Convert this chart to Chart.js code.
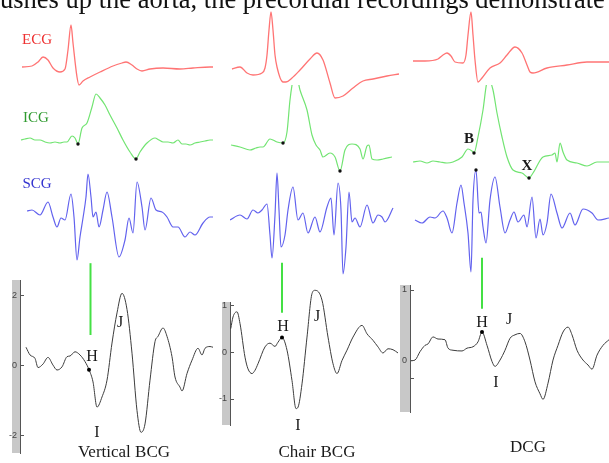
<!DOCTYPE html>
<html><head><meta charset="utf-8">
<script src="https://cdn.jsdelivr.net/npm/chart.js@4.4.1/dist/chart.umd.min.js"></script>
<style>
html,body{margin:0;padding:0;background:#fff;}
body{width:609px;height:463px;overflow:hidden;position:relative;font-family:"Liberation Serif","Times New Roman",serif;}
canvas{position:absolute;}
.t{position:absolute;transform:translate(-50%,-50%);line-height:1;white-space:nowrap;color:#1a1a1a;z-index:3;}
.lab{font-size:16px;}
.cap{font-size:17px;}
.bx{font-size:15px;font-weight:bold;}
#top{position:absolute;left:0;top:-14px;font-size:26.5px;line-height:1;white-space:nowrap;color:#111;z-index:3;}
</style></head><body>
<div id="top">ushes up the aorta, the precordial recordings demonstrate</div>
<div class="t" style="left:37px;top:39px;font-size:15px;color:#ee3030">ECG</div>
<div class="t" style="left:36px;top:117px;font-size:15px;color:#2f9a2f">ICG</div>
<div class="t" style="left:37px;top:183px;font-size:15px;color:#3434d0">SCG</div>
<div class="t bx" style="left:469px;top:138px">B</div>
<div class="t bx" style="left:527px;top:165px">X</div>
<div class="t lab" style="left:92px;top:356px">H</div>
<div class="t lab" style="left:120px;top:322px">J</div>
<div class="t lab" style="left:97px;top:432px">I</div>
<div class="t cap" style="left:124px;top:451px">Vertical BCG</div>
<div class="t lab" style="left:283px;top:326px">H</div>
<div class="t lab" style="left:317px;top:316px">J</div>
<div class="t lab" style="left:298px;top:425px">I</div>
<div class="t cap" style="left:317px;top:451px">Chair BCG</div>
<div class="t lab" style="left:482px;top:322px">H</div>
<div class="t lab" style="left:509px;top:319px">J</div>
<div class="t lab" style="left:496px;top:382px">I</div>
<div class="t cap" style="left:528px;top:446px">DCG</div>
<script>
// ---------- DATA (time in ms, amplitude in arbitrary units) ----------
const ecgT1=[8,48,72,92,112,132,160,180,192,204,212,228,236,252,280,320,372,408,424,448,468,488,520,572,640,692,760,772];
const ecgV1=[0,1,5,10,7,-1,-5,-2,17,42,24,-10,-18,-14,-10,-5,1,4,5,2,-2,-4,-2,-1,-2,-1,0,0];
const ecgT2=[8,40,68,92,128,140,148,156,164,172,180,188,212,224,248,280,320,348,372,400,420,452,492,532,572,628,676];
const ecgV2=[0,2,-4,-6,-4,1,14,39,57,39,14,2,-13,-13,-9,-1,10,16,9,-14,-29,-27,-19,-12,-10,-7,-5];
const ecgT3=[12,60,112,132,148,164,180,212,224,232,244,252,260,272,288,320,360,388,420,448,468,480,492,548,628,708,796];
const ecgV3=[0,0,2,6,8,5,-1,-2,6,26,49,26,1,-21,-17,-7,-2,6,14,8,-4,-11,-12,-7,-4,-1,-1];

const icgT1=[4,20,40,60,80,100,120,140,160,176,188,208,220,232,248,268,288,304,320,340,360,388,412,440,464,480,508,540,556,572,592,612,632,648,664,680,700,720,740,760,772];
const icgV1=[0,1,2,0,0,-2,-3,-2,-3,-2,-2,4,2,-4,12,17,33,46,42,35,25,12,0,-12,-19,-12,-3,2,0,-2,-2,-3,0,-4,-4,-5,-3,-2,-1,0,0];
const icgT2=[4,40,80,104,120,132,160,188,212,228,240,252,264,280,308,328,344,360,372,400,420,440,460,488,520,532,548,556,568,588,612,648];
const icgV2=[2,0,-3,-1,0,0,8,5,4,15,47,67,73,57,37,12,2,-3,-10,-6,-10,-24,-3,3,-2,-12,1,2,-12,-13,-12,-10];
const icgT3=[12,40,68,92,120,148,172,208,232,248,256,272,292,308,316,332,348,368,388,412,448,476,492,532,568,580,588,600,612,628,668,708,748,796];
const icgV3=[0,1,-1,1,0,-1,0,5,13,11,9,25,52,80,82,72,49,25,5,-8,-11,-16,-11,5,7,9,0,19,10,2,-1,-4,0,0];

const scgT1=[28,48,80,112,132,148,164,180,204,216,228,240,252,264,272,284,292,304,316,332,348,368,396,420,436,452,468,488,500,524,544,568,588,612,632,660,680,700,732,760,772];
const scgV1=[4,5,0,13,-2,-12,-3,-5,21,-2,-45,-22,-3,18,41,18,-2,3,-12,5,23,-2,-42,-25,-3,-18,33,8,-15,17,5,3,-2,-12,-12,-22,-17,-20,-8,-2,-2];
const scgT2=[0,40,68,92,112,128,148,160,168,180,188,196,204,220,232,252,272,292,312,340,360,388,404,416,432,444,452,464,476,488,500,520,548,572,592,608,620,652];
const scgV2=[-5,0,-4,5,2,5,11,-20,-43,0,42,5,-32,-20,5,28,-5,2,-18,-2,-17,8,17,-20,32,5,-59,-32,23,-7,-3,-12,10,-8,0,-2,-7,7];
const scgT3=[20,48,80,100,132,148,168,188,204,216,232,244,252,264,276,284,292,304,320,340,360,380,400,416,432,456,468,488,504,520,532,548,564,588,608,640,660,692,728,752,796];
const scgV3=[-2,-5,1,0,7,0,-15,15,33,15,-15,-54,18,48,5,6,-9,-25,18,41,11,-15,-2,6,-4,3,-9,21,-20,-1,-17,-5,24,5,-10,5,-7,9,5,-2,0];

const bcgT1=[24,40,60,72,92,112,132,148,168,188,200,220,240,260,276,292,308,328,348,368,388,408,428,448,468,484,500,520,540,552,572,588,608,620,640,648,668,688,712,728,740,760,772];
const bcgV1=[0.51,0.29,0.19,-0.07,0.03,0.22,0.0,-0.14,-0.05,0.24,0.26,0.38,0.29,0.10,-0.13,-0.48,-1.20,-0.91,-0.43,0.63,1.49,2.05,1.59,0.34,-1.30,-1.92,-1.68,-0.43,0.67,0.82,1.06,0.82,0.24,-0.34,-0.63,-0.74,-0.24,0.14,0.48,0.29,0.48,0.53,0.51];
const bcgT2=[3,12,28,40,60,72,88,100,112,140,160,180,192,208,228,248,264,272,288,308,328,340,368,392,412,428,448,468,492,528,548,572,592,612,632,652,672];
const bcgV2=[0.50,0.75,0.86,0.61,-0.11,-0.36,-0.46,-0.39,-0.25,0.11,0.19,0.12,0.21,0.31,0.04,-0.61,-1.21,-1.18,-0.68,0.32,1.25,1.32,1.11,0.32,-0.25,-0.46,-0.18,0.04,0.32,0.57,0.39,0.25,0.11,-0.02,0.07,0.05,-0.02];
const dcgT3=[4,20,40,60,72,92,112,140,152,172,208,228,252,272,288,308,328,340,360,380,400,420,440,460,480,500,520,532,552,572,592,612,632,648,668,692,712,728,748,772,796];
const dcgV3=[-0.01,0,0.12,0.21,0.23,0.33,0.30,0.29,0.17,0.14,0.13,0.17,0.19,0.26,0.40,0.21,-0.02,-0.09,0,0.14,0.31,0.36,0.38,0.26,0,-0.31,-0.48,-0.56,-0.33,0,0.21,0.40,0.47,0.36,0.14,0,-0.07,-0.13,0.07,0.21,0.29];

// fiducial marker indices (B, X on ICG; peak on SCG; H on BCG)
const icgMarks1=[13,24], icgMarks2=[8,21], icgMarks3=[10,21], scgMarks3=[13];
const hIdx=[14,13,14];
// green alignment markers: time and amplitude span in each BCG panel
const greenT=[282,208,288];
const greenV1=[0.86,2.91], greenV2=[0.84,1.91], greenV3=[0.73,1.46];
// axis ticks
const ticks1=[2,0,-2], tickLab1=['2','0','-2'];
const ticks2=[1,0,-1], tickLab2=['1','0','-1'];
const ticks3=[1,0,-0.25], tickLab3=['1','0',''];

// ---------- RENDERING ----------
const MS_PER_PX=4;
function mkCanvas(left,top,w,h){
  const c=document.createElement('canvas');
  c.width=w;c.height=h;
  c.style.left=left+'px';c.style.top=top+'px';
  c.style.width=w+'px';c.style.height=h+'px';
  document.body.appendChild(c);
  return c;
}
const baseOpts=()=>({responsive:false,animation:false,events:[],
  plugins:{legend:{display:false},tooltip:{enabled:false}}});

function traceChart(p){
  const cv=mkCanvas(p.left,p.top,p.w,p.h);
  const marks=p.marks||[];
  const o=baseOpts();
  o.layout={padding:0};
  o.scales={x:{type:'linear',display:false,min:0,max:p.w*MS_PER_PX},
            y:{type:'linear',display:false,min:p.base-(p.top+p.h),max:p.base-p.top}};
  return new Chart(cv,{type:'line',
    data:{datasets:[{data:p.t.map((x,i)=>({x:x,y:p.v[i]})),borderColor:p.color,borderWidth:p.lw,
      pointRadius:c=>marks.includes(c.dataIndex)?1.7:0,pointBackgroundColor:'#111',pointBorderWidth:0,
      cubicInterpolationMode:'monotone',clip:false}]},
    options:o});
}

const grayBarPlugin={id:'grayBar',
  beforeDraw(chart,args,opts){
    const a=chart.chartArea,ctx=chart.ctx;
    ctx.save();ctx.fillStyle='#c8c8c8';
    ctx.fillRect(a.left-opts.width,a.top,opts.width,a.bottom-a.top);
    ctx.restore();
  },
  afterDraw(chart){
    const s=chart.scales.y,ctx=chart.ctx;
    ctx.save();ctx.strokeStyle='#555';ctx.lineWidth=1;ctx.beginPath();
    s.ticks.forEach(t=>{const y=Math.round(s.getPixelForValue(t.value))+0.5;ctx.moveTo(s.right,y);ctx.lineTo(s.right+4,y);});
    ctx.stroke();ctx.restore();
  }};

function bcgChart(p){
  const TOP=255,BOT=463;
  const cv=mkCanvas(p.origin-20,TOP,p.w+20,BOT-TOP);
  const o=baseOpts();
  o.layout={padding:{top:p.barTop-TOP,bottom:BOT-p.barBot,left:0,right:0}};
  o.plugins.grayBar={width:p.barW};
  o.scales={x:{type:'linear',display:false,min:0,max:p.w*MS_PER_PX},
    y:{type:'linear',position:'left',min:p.yMin,max:p.yMax,
      afterBuildTicks:s=>{s.ticks=p.ticks.map(v=>({value:v}));},
      afterFit:s=>{s.width=20;},
      grid:{display:false,drawTicks:false,tickLength:0},border:{display:true,color:'#555',width:1},
      ticks:{padding:3,color:'#444',autoSkip:false,font:{family:'Liberation Sans',size:9},callback:(v,i)=>p.labels[i]}}};
  return new Chart(cv,{type:'line',
    data:{datasets:[
      {data:p.t.map((x,i)=>({x:x,y:p.v[i]})),borderColor:'#3c3c3c',borderWidth:1,
       pointRadius:c=>c.dataIndex===p.h?2:0,pointBackgroundColor:'#000',pointBorderWidth:0,
       cubicInterpolationMode:'monotone',clip:false},
      {data:[{x:p.gT,y:p.gV[0]},{x:p.gT,y:p.gV[1]}],borderColor:'#44e044',borderWidth:2,pointRadius:0,clip:false}
    ]},
    options:o,plugins:[grayBarPlugin]});
}

const RED='#ff7474',GREEN='#72e472',BLUE='#6262ee';
const cols=[{origin:20,w:200},{origin:230,w:180},{origin:410,w:199}];
const ecg=[[ecgT1,ecgV1,67],[ecgT2,ecgV2,69],[ecgT3,ecgV3,61]];
const icg=[[icgT1,icgV1,140,icgMarks1],[icgT2,icgV2,147,icgMarks2],[icgT3,icgV3,162,icgMarks3]];
const scg=[[scgT1,scgV1,215,[]],[scgT2,scgV2,215,[]],[scgT3,scgV3,218,scgMarks3]];
cols.forEach((c,k)=>{
  traceChart({left:c.origin,top:5,w:c.w,h:95,t:ecg[k][0],v:ecg[k][1],base:ecg[k][2],color:RED,lw:1.3});
  traceChart({left:c.origin,top:85,w:c.w,h:100,t:icg[k][0],v:icg[k][1],base:icg[k][2],color:GREEN,lw:1.2,marks:icg[k][3]});
  traceChart({left:c.origin,top:160,w:c.w,h:125,t:scg[k][0],v:scg[k][1],base:scg[k][2],color:BLUE,lw:1.2,marks:scg[k][3]});
});
bcgChart({origin:20,w:200,barTop:280,barBot:453,barW:8,yMin:-2.51,yMax:2.43,t:bcgT1,v:bcgV1,h:hIdx[0],gT:greenT[0],gV:greenV1,ticks:ticks1,labels:tickLab1});
bcgChart({origin:230,w:180,barTop:302,barBot:425,barW:8,yMin:-1.56,yMax:1.07,t:bcgT2,v:bcgV2,h:hIdx[1],gT:greenT[1],gV:greenV2,ticks:ticks2,labels:tickLab2});
bcgChart({origin:410,w:199,barTop:285,barBot:412,barW:10,yMin:-0.74,yMax:1.07,t:dcgT3,v:dcgV3,h:hIdx[2],gT:greenT[2],gV:greenV3,ticks:ticks3,labels:tickLab3});
</script>
</body></html>
